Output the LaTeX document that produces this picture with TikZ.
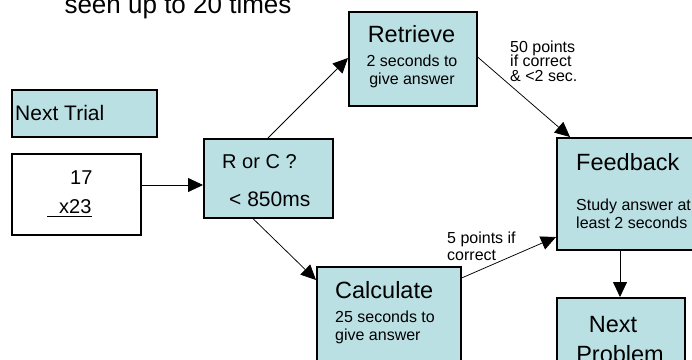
\documentclass[tikz,border=0pt]{standalone}
\usepackage{fontspec}
\setmainfont{Liberation Sans}
\usetikzlibrary{arrows.meta,calc}
\definecolor{boxfill}{RGB}{187,224,228}
\tikzset{
  box/.style={draw=black, line width=1.6pt, fill=boxfill, rectangle, inner sep=0pt, anchor=north west},
  conn/.style={draw=black, line width=0.75pt, -{Triangle[length=15pt,width=14pt]}},
  txt/.style={inner sep=0pt, anchor=base west},
  txtc/.style={inner sep=0pt, anchor=base},
  head/.style={font=\fontsize{23.5}{28}\selectfont},
  big/.style={font=\fontsize{21}{25}\selectfont},
  small/.style={font=\fontsize{16}{19}\selectfont},
}
\begin{document}
\begin{tikzpicture}[x=1pt,y=-1pt]
\useasboundingbox (0,0) rectangle (692,359);
% boxes
\node[box, minimum width=145pt, minimum height=47pt] (trial) at (11,89) {};
\node[box, fill=white, minimum width=129pt, minimum height=81pt] (prob) at (11,153) {};
\node[box, minimum width=129pt, minimum height=79pt] (rc) at (203,138) {};
\node[box, minimum width=128pt, minimum height=94pt] (ret) at (348,11) {};
\node[box, minimum width=144pt, minimum height=110pt] (calc) at (316,266) {};
\node[box, minimum width=150pt, minimum height=112pt] (fb) at (556,137) {};
\node[box, minimum width=128pt, minimum height=95pt] (np) at (556,297) {};
% title
\node[txtc, font=\fontsize{26}{30}\selectfont] (title) at (178,13.5) {seen up to 20 times};
% texts
\node[txt, big] (trialt) at (15,120) {Next Trial};
\node[txt, font=\fontsize{20}{24}\selectfont] (n17) at (70,184) {17};
\node[txt, font=\fontsize{20}{24}\selectfont] (x23) at (47,213) {\hspace*{12pt}x23};
\draw[line width=1.3pt] ($(x23.base west)+(0,3.5)$) -- ($(x23.base east)+(0,3.5)$);
\node[txt, font=\fontsize{20}{24}\selectfont] (rct1) at (222,168) {R or C ?};
\node[txt, big] (rct2) at (229,206) {< 850ms};
\node[txtc, head] (rett1) at (411.5,42) {Retrieve};
\node[txtc, small] (rett2) at (412,66) {2 seconds to};
\node[txtc, small] (rett3) at (412,84) {give answer};
\node[txt, head] (calct1) at (335,298) {Calculate};
\node[txt, small] (calct2) at (335,322) {25 seconds to};
\node[txt, small] (calct3) at (335,340) {give answer};
\node[txt, head] (fbt1) at (576,170) {Feedback};
\node[txt, small] (fbt2) at (576,210) {Study answer at};
\node[txt, small] (fbt3) at (576,228) {least 2 seconds};
\node[txtc, head] (npt1) at (613,332) {Next};
\node[txtc, head] (npt2) at (620,362) {Problem};
\node[txt, small] (l50a) at (510,52) {50 points};
\node[txt, small] (l50b) at (510,66) {if correct};
\node[txt, small] (l50c) at (510,81) {\& <2 sec.};
\node[txt, small] (l5a) at (447,243) {5 points if};
\node[txt, small] (l5b) at (447,260) {correct};
% connectors
\draw[conn] ($(prob.north east)+(0,32)$) -- ($(rc.north west)+(0,47)$);
\draw[conn] ($(rc.north west)+(65,0)$) -- ($(ret.north west)+(0,47)$);
\draw[conn] ($(rc.south west)+(50,0)$) -- ($(calc.north west)+(0,14)$);
\draw[conn] ($(ret.north east)+(0,46)$) -- ($(fb.north west)+(14,0)$);
\draw[conn] ($(calc.north east)+(0,12)$) -- ($(fb.north west)+(0,100)$);
\draw[conn] ($(fb.south west)+(64,0)$) -- ($(np.north west)+(64,0)$);
\end{tikzpicture}
\end{document}
